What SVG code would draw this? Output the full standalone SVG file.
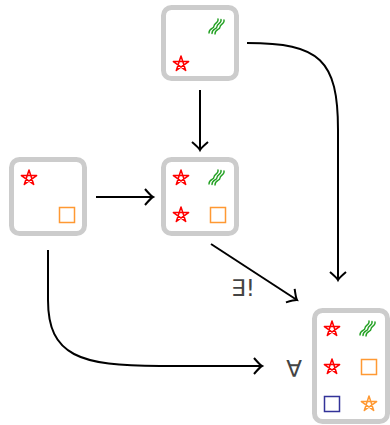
<svg xmlns="http://www.w3.org/2000/svg" width="390" height="425" viewBox="0 0 390 425">
<defs>
<style>
.box{fill:#fff;stroke:#cccccc;stroke-width:5}
.edge{fill:none;stroke:#000;stroke-width:2}
.lbl{font-family:"DejaVu Sans",sans-serif;font-size:23px;fill:#444;text-anchor:middle}
</style>
<marker id="arr" viewBox="-12 -12 24 24" markerWidth="24" markerHeight="24" markerUnits="userSpaceOnUse" refX="0" refY="0" orient="auto">
<path d="M-8,-8 Q-2,-1 0,0 Q-2,1 -8,8" fill="none" stroke="#000" stroke-width="2"/>
</marker>
<path id="star" d="M0,-8 L4.7,6.47 L-7.61,-2.47 L7.61,-2.47 L-4.7,6.47 Z" fill="none" stroke-width="1.5" stroke-linejoin="round"/>
<g id="sq" fill="none" stroke="#22a022" stroke-width="1.4" stroke-linecap="round">
<path d="M-7,7 C-7,2 -2,3 -2,0 S3,-3 2,-7"/>
<path d="M-4,7.5 C-4,2.5 1,3.5 1,0.5 S6,-2.5 5,-6.5"/>
<path d="M-1,8 C-1,3 4,4 4,1 S9,-2 8,-6"/>
</g>
<rect id="box" x="-7.5" y="-7.5" width="15" height="15" fill="none" stroke-width="1.5"/>
</defs>
<g id="connectors">
<path class="edge" d="M200,90 L200,150" marker-end="url(#arr)"/>
<path class="edge" d="M96,197 L153,197" marker-end="url(#arr)"/>
<path class="edge" d="M247,43 C320,43 338,60 338,130 L338,280" marker-end="url(#arr)"/>
<path class="edge" d="M211,244 L297,300" marker-end="url(#arr)"/>
<path class="edge" d="M48,250 L48,300 C48,356 80,366 160,366 L262,366" marker-end="url(#arr)"/>
<text class="lbl" x="243" y="296">∃!</text>
<text class="lbl" x="294" y="377">∀</text>
</g>
<g id="top">
<rect class="box" x="163.5" y="7.5" width="73" height="71" rx="8"/>
<use href="#sq" x="216" y="26"/>
<use href="#star" x="181" y="64" stroke="#ff0000"/>
</g>
<g id="left">
<rect class="box" x="11.5" y="159.5" width="73" height="74" rx="8"/>
<use href="#star" x="29" y="178" stroke="#ff0000"/>
<use href="#box" x="67" y="215" stroke="#ff9933"/>
</g>
<g id="middle">
<rect class="box" x="163.5" y="159.5" width="73" height="74" rx="8"/>
<use href="#star" x="181" y="178" stroke="#ff0000"/>
<use href="#sq" x="216" y="177"/>
<use href="#star" x="181" y="215" stroke="#ff0000"/>
<use href="#box" x="218" y="215" stroke="#ff9933"/>
</g>
<g id="bottom">
<rect class="box" x="314.5" y="310.5" width="73" height="111" rx="8"/>
<use href="#star" x="332" y="329" stroke="#ff0000"/>
<use href="#sq" x="367" y="328"/>
<use href="#star" x="332" y="367" stroke="#ff0000"/>
<use href="#box" x="369" y="367" stroke="#ff9933"/>
<use href="#box" x="332" y="404" stroke="#333399"/>
<use href="#star" x="369" y="404" stroke="#ff9933"/>
</g>
</svg>
